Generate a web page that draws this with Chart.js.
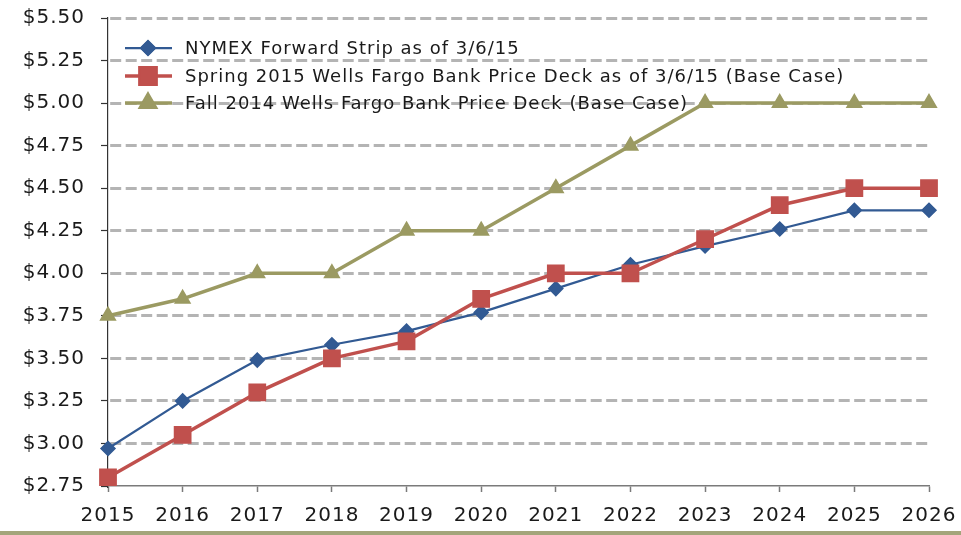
<!DOCTYPE html>
<html>
<head>
<meta charset="utf-8">
<script src="https://cdn.jsdelivr.net/npm/chart.js@4"></script>
<style>
html,body{margin:0;padding:0;background:#fff;}
#wrap{width:961px;height:535px;position:relative;}
</style>
</head>
<body>
<div id="wrap"><canvas id="c" width="961" height="535"></canvas></div>
<script>
const years = ['2015','2016','2017','2018','2019','2020','2021','2022','2023','2024','2025','2026'];
const nymexLabel = 'NYMEX Forward Strip as of 3/6/15';
const nymex = [2.97, 3.25, 3.49, 3.58, 3.66, 3.77, 3.91, 4.05, 4.16, 4.26, 4.37, 4.37];
const springLabel = 'Spring 2015 Wells Fargo Bank Price Deck as of 3/6/15 (Base Case)';
const spring = [2.80, 3.05, 3.30, 3.50, 3.60, 3.85, 4.00, 4.00, 4.20, 4.40, 4.50, 4.50];
const fallLabel = 'Fall 2014 Wells Fargo Bank Price Deck (Base Case)';
const fall = [3.75, 3.85, 4.00, 4.00, 4.25, 4.25, 4.50, 4.75, 5.00, 5.00, 5.00, 5.00];
const yMin = 2.75, yMax = 5.50, yStep = 0.25;

const FONT = '"DejaVu Sans", Verdana, sans-serif';

const spacingPlugin = {
  id: 'spacing',
  beforeUpdate(chart) { chart.ctx.letterSpacing = '1px'; },
  beforeLayout(chart) { chart.ctx.letterSpacing = '1px'; },
  beforeDraw(chart) { chart.ctx.letterSpacing = '1px'; }
};

const legendPlugin = {
  id: 'insideLegend',
  afterDatasetsDraw(chart) {
    const ctx = chart.ctx;
    const rows = [48, 76, 103];
    chart.data.datasets.forEach((ds, i) => {
      const y = rows[i];
      ctx.save();
      ctx.setLineDash([]);
      ctx.strokeStyle = ds.borderColor;
      ctx.lineWidth = ds.borderWidth;
      ctx.beginPath();
      ctx.moveTo(125, y);
      ctx.lineTo(172, y);
      ctx.stroke();
      Chart.helpers.drawPoint(ctx, {
        pointStyle: ds.pointStyle,
        radius: ds.pointRadius,
        borderWidth: ds.pointBorderWidth,
        rotation: 0
      }, 148, y);
      ctx.fillStyle = ds.pointBackgroundColor;
      ctx.strokeStyle = ds.borderColor;
      ctx.lineWidth = ds.pointBorderWidth;
      ctx.fill();
      ctx.stroke();
      ctx.fillStyle = '#1a1a1a';
      ctx.letterSpacing = '1px';
      ctx.font = '18px ' + FONT;
      ctx.textBaseline = 'middle';
      ctx.textAlign = 'left';
      ctx.fillText(ds.label, 185, y + 1);
      ctx.restore();
    });
  }
};

const bottomBar = {
  id: 'bottomBar',
  afterDraw(chart) {
    const ctx = chart.ctx;
    ctx.save();
    ctx.fillStyle = '#a4a57b';
    ctx.fillRect(0, 531, chart.width, 4);
    ctx.restore();
  }
};

new Chart(document.getElementById('c'), {
  type: 'line',
  data: {
    labels: years,
    datasets: [
      {
        label: nymexLabel, data: nymex,
        borderColor: '#325a93', backgroundColor: '#325a93',
        pointBackgroundColor: '#325a93', pointBorderColor: '#325a93',
        borderWidth: 2.25, pointStyle: 'rectRot', pointRadius: 7, pointBorderWidth: 1.5,
        order: 2, tension: 0
      },
      {
        label: springLabel, data: spring,
        borderColor: '#c0504d', backgroundColor: '#c0504d',
        pointBackgroundColor: '#c0504d', pointBorderColor: '#c0504d',
        borderWidth: 3.5, pointStyle: 'rect', pointRadius: 11.5, pointBorderWidth: 1.5,
        order: 1, tension: 0
      },
      {
        label: fallLabel, data: fall,
        borderColor: '#9b9a62', backgroundColor: '#9b9a62',
        pointBackgroundColor: '#9b9a62', pointBorderColor: '#9b9a62',
        borderWidth: 3.5, pointStyle: 'triangle', pointRadius: 8.5, pointBorderWidth: 1.5,
        order: 0, tension: 0
      }
    ]
  },
  options: {
    responsive: false,
    animation: false,
    devicePixelRatio: 1,
    layout: { padding: { top: 18, right: 32, left: 0, bottom: 0 } },
    plugins: { legend: { display: false }, tooltip: { enabled: false } },
    elements: { line: { borderJoinStyle: 'round' } },
    scales: {
      x: {
        type: 'category',
        offset: false,
        afterFit(scale) { scale.height = 49; scale.paddingLeft = 0; scale.paddingRight = 0; },
        grid: { drawOnChartArea: false, drawTicks: true, tickLength: 6, tickColor: '#7a7a7a', tickWidth: 1.5 },
        border: { display: true, color: '#7a7a7a', width: 1.5 },
        ticks: { color: '#1a1a1a', font: { family: FONT, size: 20 }, padding: 12, maxRotation: 0, autoSkip: false }
      },
      y: {
        min: yMin, max: yMax,
        afterFit(scale) { scale.width = 108; scale.paddingTop = 0; scale.paddingBottom = 0; },
        grid: {
          color: (c) => (c.tick && c.tick.value === yMin) ? 'rgba(0,0,0,0)' : '#b4b4b4',
          lineWidth: 3,
          drawTicks: true, tickLength: 7, tickColor: '#333333', tickWidth: 1.2, tickBorderDash: []
        },
        border: { display: true, color: '#333333', width: 1.2, dash: [11, 4.5], dashOffset: -2 },
        ticks: {
          stepSize: yStep, color: '#1a1a1a', font: { family: FONT, size: 20 }, padding: 16,
          callback: (v) => '$' + Number(v).toFixed(2)
        }
      }
    }
  },
  plugins: [spacingPlugin, legendPlugin, bottomBar]
});
</script>
</body>
</html>
